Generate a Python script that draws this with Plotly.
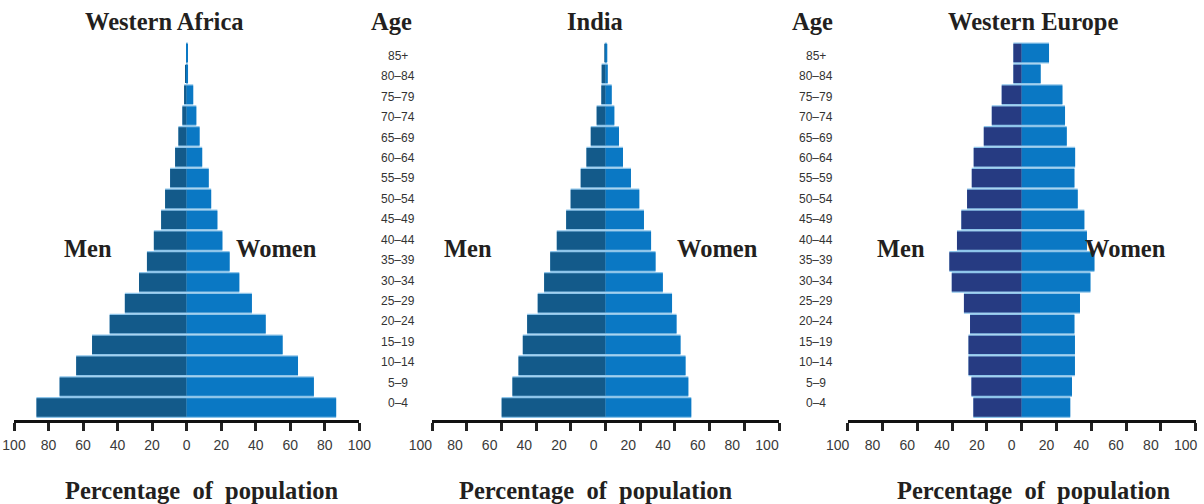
import plotly.graph_objects as go

ages = ["0–4", "5–9", "10–14", "15–19", "20–24", "25–29", "30–34", "35–39", "40–44",
        "45–49", "50–54", "55–59", "60–64", "65–69", "70–74", "75–79", "80–84", "85+"]

africa_men = [87, 73.6, 64, 54.8, 44.6, 35.8, 27.6, 23, 19, 14.8, 12.5, 9.6, 6.7, 4.8, 2.5, 1.5, 0.4, 0.3]
africa_women = [86.6, 73.7, 64.5, 55.6, 45.8, 37.8, 30.5, 24.9, 20.7, 17.8, 14.2, 12.8, 9, 7.5, 5.6, 3.8, 0.8, 0.6]

india_men = [60, 53.8, 50.3, 47.8, 45.3, 39.2, 35.5, 32, 28.2, 22.8, 20.2, 14.4, 11.1, 8.6, 5.2, 2.5, 2.3, 0.5]
india_women = [49.4, 47.7, 46.1, 43.2, 40.9, 38.3, 33, 28.8, 26.2, 22.1, 19.4, 14.6, 10, 7.7, 5, 3.5, 1.2, 0.7]

europe_men = [27.8, 28.9, 30.6, 30.6, 29.7, 33.2, 40.2, 41.6, 37.2, 34.7, 31.4, 28.7, 27.6, 21.8, 17.2, 11.5, 4.8, 4.8]
europe_women = [27.9, 28.9, 30.6, 30.6, 30.3, 33.5, 39.5, 41.8, 37.5, 36, 32.2, 30.3, 30.7, 25.9, 24.9, 23.4, 10.9, 15.7]

regions = ["Western Africa", "India", "Western Europe"]
tick_vals = [-100, -80, -60, -40, -20, 0, 20, 40, 60, 80, 100]
tick_text = ["100", "80", "60", "40", "20", "0", "20", "40", "60", "80", "100"]

W, H = 1204, 504
x_domains_px = [(14, 359.3), (432.3, 779), (847.7, 1195.7)]
label_shift = [0, -12, -10]
men_colors = ["#135a8a", "#135a8a", "#263b82"]
women_color = "#0a78c4"
stripe = "#8ec5ea"

idx = list(range(len(ages)))
data = [(africa_men, africa_women), (india_men, india_women), (europe_men, europe_women)]

fig = go.Figure()
for k, (men, women) in enumerate(data):
    xa = "x" if k == 0 else f"x{k+1}"
    # light stripe underlay
    fig.add_trace(go.Bar(y=idx, x=[m + w for m, w in zip(men, women)], base=[-m for m in men],
                         orientation="h", width=1.0, marker=dict(color=stripe, line=dict(width=0)),
                         xaxis=xa, yaxis="y", showlegend=False, hoverinfo="skip"))
    fig.add_trace(go.Bar(y=idx, x=[-m for m in men], orientation="h", width=0.88,
                         marker=dict(color=men_colors[k], line=dict(width=0)),
                         xaxis=xa, yaxis="y", showlegend=False, name="Men"))
    fig.add_trace(go.Bar(y=idx, x=women, orientation="h", width=0.88,
                         marker=dict(color=women_color, line=dict(width=0)),
                         xaxis=xa, yaxis="y", showlegend=False, name="Women"))

y_bottom_px, y_top_px = 419.5, 40
dom = [(H - y_bottom_px) / H, (H - y_top_px) / H]
pitch = 20.85
yr = [-(y_bottom_px - 407.5) / pitch, 17 + (53 - y_top_px) / pitch]
lpitch = (403 - 56) / 17
yr_lab = [-(y_bottom_px - 403) / lpitch, 17 + (56 - y_top_px) / lpitch]

axis_common = dict(range=[-100, 100], tickvals=tick_vals, ticktext=tick_text,
                   showline=True, linecolor="#111", linewidth=3, ticks="outside",
                   ticklen=8, tickwidth=2.5, tickcolor="#222", showgrid=False, zeroline=False,
                   tickfont=dict(family="Liberation Sans", size=14, color="#3a3a3a"),
                   ticklabelstandoff=3, anchor="y", fixedrange=True, automargin=False,
                   ticklabeloverflow="allow")

layout = dict(width=W, height=H, margin=dict(l=0, r=0, t=0, b=0, autoexpand=False),
              plot_bgcolor="white", paper_bgcolor="white", barmode="overlay",
              yaxis=dict(domain=dom, range=yr, visible=False, fixedrange=True, automargin=False),
              yaxis2=dict(domain=dom, range=yr_lab, visible=False, fixedrange=True,
                          automargin=False, overlaying="y"))
for k, (a, b) in enumerate(x_domains_px):
    key = "xaxis" if k == 0 else f"xaxis{k+1}"
    layout[key] = dict(domain=[a / W, b / W], ticklabelshift=label_shift[k], **axis_common)
fig.update_layout(**layout)

serif = dict(family="Liberation Serif", size=24.5, color="#231f20", weight="bold")
ann = []
def txt(x, y, s, font):
    ann.append(dict(x=x / W, y=(H - y) / H, xref="paper", yref="paper",
                    text=s, showarrow=False, font=font, xanchor="center", yanchor="middle"))

title_x = [164, 595, 1033]
men_x = [88, 468, 901]
women_x = [276, 717, 1125]
bottom_x = [201, 595, 1033]
for k in range(3):
    txt(title_x[k], 22, regions[k], serif)
    txt(men_x[k], 248, "Men", serif)
    txt(women_x[k], 248, "Women", serif)
    txt(bottom_x[k], 490, "Percentage&nbsp; of&nbsp; population", serif)

for ax in [391, 812]:
    txt(ax, 22, "Age", serif)
age_font = dict(family="Liberation Sans", size=12, color="#333")
for lx in [398, 816]:
    for i, a in enumerate(ages):
        ann.append(dict(x=lx / W, y=i, xref="paper", yref="y2", text=a, showarrow=False,
                        font=age_font, xanchor="center", yanchor="middle"))
fig.update_layout(annotations=ann)

fig.write_html("out.html", config={"displayModeBar": False},
               post_script="document.body.style.margin='0';document.body.style.overflow='hidden';")
